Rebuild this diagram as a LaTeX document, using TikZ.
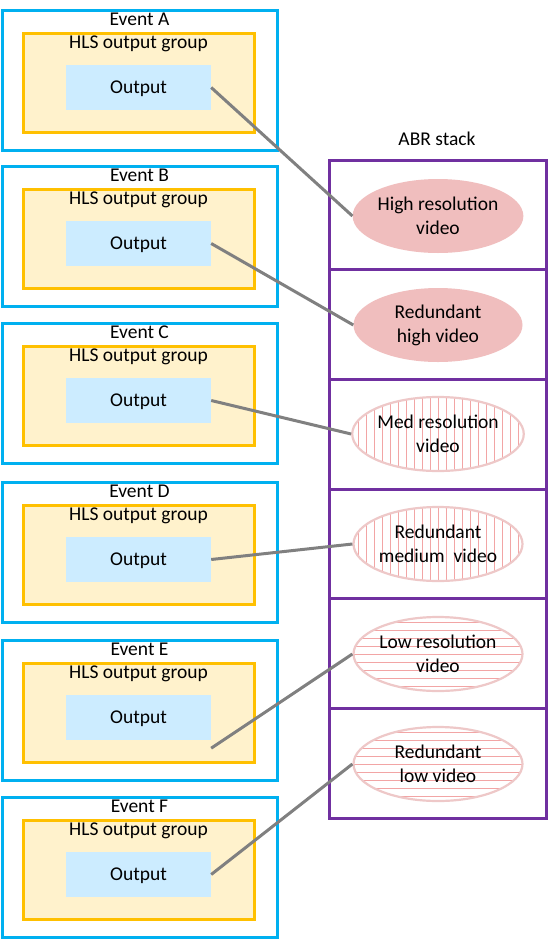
\documentclass[tikz,border=0pt]{standalone}
\usepackage{fontspec}
\setmainfont{Carlito}
\usetikzlibrary{shapes.geometric}
\definecolor{evblue}{RGB}{0,176,240}
\definecolor{grporange}{RGB}{255,192,0}
\definecolor{grpfill}{RGB}{255,242,204}
\definecolor{outfill}{RGB}{204,236,255}
\definecolor{abrpurple}{RGB}{112,48,160}
\definecolor{ellfill}{RGB}{240,190,190}
\definecolor{ellborder}{RGB}{238,200,200}
\definecolor{hatchcol}{RGB}{242,165,165}
\definecolor{conncol}{RGB}{128,128,128}
\tikzset{
  evbox/.style={draw=evblue, line width=3pt, minimum width=275pt, minimum height=140pt, inner sep=0pt},
  grpbox/.style={draw=grporange, fill=grpfill, line width=3pt, minimum width=231pt, minimum height=99pt, inner sep=0pt},
  outbox/.style={fill=outfill, minimum width=145pt, minimum height=45pt, inner sep=0pt, text height=12pt, text depth=0pt, font=\fontsize{19.5}{24}\selectfont},
  lbl/.style={anchor=base, inner sep=0pt, font=\fontsize{19.5}{24}\selectfont},
  abrrow/.style={draw=abrpurple, line width=3pt, minimum width=217pt, minimum height=109.67pt, inner sep=0pt},
  ellbase/.style={ellipse, minimum width=169pt, minimum height=74pt, inner sep=0pt, align=center, font=\fontsize{19.5}{24}\selectfont},
  ellsolid/.style={ellbase, fill=ellfill},
  ellvert/.style={ellbase, draw=ellborder, line width=2.2pt, fill=white,
    path picture={\foreach \i in {-88,-80,...,88}{\draw[hatchcol, line width=0.5pt] ([xshift=\i pt]path picture bounding box.north) -- ([xshift=\i pt]path picture bounding box.south);}}},
  ellhorz/.style={ellbase, draw=ellborder, line width=2.2pt, fill=white,
    path picture={\foreach \i in {-40,-32,...,40}{\draw[hatchcol, line width=0.5pt] ([yshift=\i pt]path picture bounding box.west) -- ([yshift=\i pt]path picture bounding box.east);}}},
  conn/.style={draw=conncol, line width=3pt}
}
\begin{document}
\begin{tikzpicture}[x=1pt,y=-1pt]
\useasboundingbox[fill=white] (0,0) rectangle (548,940);
% events
\foreach \n/\t in {A/10,B/166,C/323,D/482,E/640,F/797}{
  \node[evbox] (ev\n) at (139.5,\t+70) {};
  \node[grpbox] (grp\n) at (138.5,\t+72.5) {};
  \node[outbox] (out\n) at (138.5,\t+77.5) {Output};
  \node[lbl] (evl\n) at (139.5,\t+15) {Event \n};
  \node[lbl] (grpl\n) at (138.5,\t+38) {HLS output group};
}
% ABR stack
\node[lbl] (abrl) at (437,145) {ABR stack};
\foreach \i in {1,...,6}{
  \node[abrrow] (r\i) at (437.5,{160+109.67*(\i-0.5)}) {};
}
\node[ellsolid] (ell1) at (438,216) {High resolution\\video};
\node[ellsolid] (ell2) at (438,325) {Redundant\\high video};
\node[ellvert] (ell3) at (438,434) {Med resolution\\video};
\node[ellvert] (ell4) at (438,544) {Redundant\\medium\ \ video};
\node[ellhorz] (ell5) at (438,654) {Low resolution\\video};
\node[ellhorz] (ell6) at (438,764) {Redundant\\low video};
% connectors
\coordinate (eStart) at ([yshift=-8pt]outE.south east);
\draw[conn] (outA.east) -- (ell1.west);
\draw[conn] (outB.east) -- (ell2.west);
\draw[conn] (outC.east) -- (ell3.west);
\draw[conn] (outD.east) -- (ell4.west);
\draw[conn] (eStart) -- (ell5.west);
\draw[conn] (outF.east) -- (ell6.west);
\end{tikzpicture}
\end{document}
